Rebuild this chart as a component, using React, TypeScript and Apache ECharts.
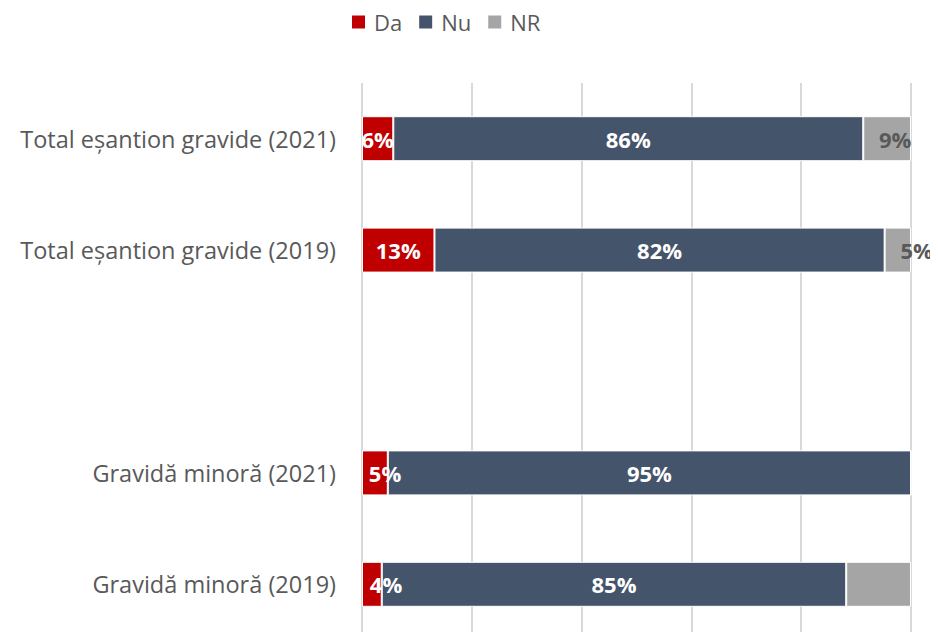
import React, { useEffect, useRef } from "react";
import * as echarts from "echarts";

const categories = [
  "Total eșantion gravide (2021)",
  "Total eșantion gravide (2019)",
  "",
  "Gravidă minoră (2021)",
  "Gravidă minoră (2019)",
];
const seriesNames = ["Da", "Nu", "NR"];
const daValues: (number | null)[] = [5.7, 13.2, null, 4.7, 3.6];
const nuValues: (number | null)[] = [85.6, 82.0, null, 95.3, 84.6];
const nrValues: (number | null)[] = [8.7, 4.8, null, 0, 11.8];
const nrLabelShown = [true, true, false, false, false];
const xTicks = [0, 20, 40, 60, 80, 100];

const colors = ["#C00000", "#44546A", "#A5A5A5"];
const FONT = "'Open Sans', 'Noto Sans', sans-serif";

export default function App() {
  const ref = useRef<HTMLDivElement>(null);
  useEffect(() => {
    if (!ref.current) return;
    const chart = echarts.init(ref.current, undefined, { renderer: "svg" });
    const fmt = (p: any) => (p.value == null || p.value === 0 ? "" : Math.round(p.value) + "%");
    const daPos: any[] = ["inside", "inside", "inside", [23, "50%"], [24, "50%"]];
    const mk = (name: string, data: any[], color: string, labelColor: string) => ({
      name,
      type: "bar",
      stack: "total",
      barWidth: 45,
      data,
      itemStyle: { color, borderColor: "#ffffff", borderWidth: 1 },
      label: {
        show: true,
        position: "inside",
        align: "center",
        verticalAlign: "middle",
        formatter: fmt,
        color: labelColor,
        fontFamily: FONT,
        fontWeight: "bold",
        fontSize: 22,
      },
      emphasis: { disabled: true },
    });
    chart.setOption({
      animation: false,
      color: colors,
      legend: {
        data: seriesNames,
        top: 6,
        left: 345,
        itemWidth: 15,
        itemHeight: 15,
        itemGap: 15,
        icon: "rect",
        textStyle: { color: "#595959", fontSize: 22, fontFamily: FONT, padding: [0, 0, 0, 3] },
      },
      grid: { left: 362, right: 27, top: 83, bottom: -3, containLabel: false },
      xAxis: {
        type: "value",
        min: xTicks[0],
        max: xTicks[xTicks.length - 1],
        interval: 20,
        axisLabel: { show: false },
        axisLine: { show: false },
        axisTick: { show: false },
        splitLine: { show: true, lineStyle: { color: "#D9D9D9", width: 2 } },
      },
      yAxis: {
        type: "category",
        inverse: true,
        data: categories,
        axisLine: { show: false },
        axisTick: { show: false },
        axisLabel: { color: "#595959", fontSize: 23.5, fontFamily: FONT, margin: 26 },
      },
      series: [
        mk(
          seriesNames[0],
          daValues.map((v, i) => ({ value: v, label: { position: daPos[i] } })),
          colors[0],
          "#ffffff"
        ),
        mk(seriesNames[1], nuValues, colors[1], "#ffffff"),
        mk(
          seriesNames[2],
          nrValues.map((v, i) => ({ value: v, label: { show: nrLabelShown[i], position: [32, "50%"] } })),
          colors[2],
          "#595959"
        ),
      ],
    });
    return () => chart.dispose();
  }, []);
  return <div ref={ref} style={{ width: 938, height: 640, margin: -8 }} />;
}
